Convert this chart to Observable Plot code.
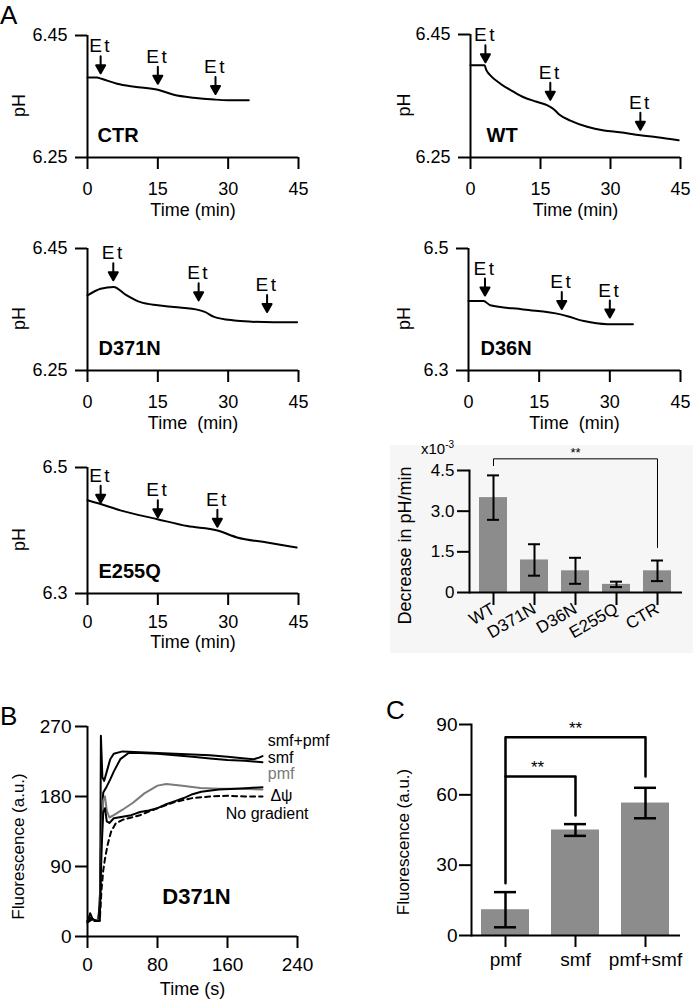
<!DOCTYPE html>
<html><head><meta charset="utf-8">
<script src="https://cdn.jsdelivr.net/npm/d3@7"></script>
<script src="https://cdn.jsdelivr.net/npm/@observablehq/plot@0.6"></script>
<style>
body{margin:0;background:#fff;}
#fig{position:relative;width:693px;height:1007px;overflow:hidden;font-family:"Liberation Sans",Arial,Helvetica,sans-serif;color:#000;}
.lab{position:absolute;font-size:26px;line-height:1;}
.bg{position:absolute;left:390px;top:445px;width:303px;height:208px;background:#f6f6f6;}
.sci{position:absolute;left:421px;top:440px;font-size:15px;line-height:1;}
.sci sup{font-size:10px;vertical-align:6px;}
</style></head><body><div id="fig"></div>
<script>
// ---------- Panel A: pH traces ----------
const ctrTime = [0, 2, 3, 6.3, 10, 15, 18.4, 22.6, 27, 30, 34.4];
const ctrPH   = [6.381, 6.381, 6.379, 6.371, 6.366, 6.361, 6.353, 6.348, 6.345, 6.344, 6.344];
const ctrEtTime = [2.8, 15, 27.3];
const ctrEtPH   = [6.388, 6.371, 6.354];

const wtTime = [0, 3, 3.4, 4.2, 6.4, 9, 11.4, 14, 16.4, 17.9, 19, 21.4, 25, 28.6, 32, 36.4, 40, 44.6];
const wtPH   = [6.40, 6.40, 6.392, 6.384, 6.37, 6.358, 6.348, 6.341, 6.335, 6.328, 6.32, 6.31, 6.30, 6.294, 6.291, 6.286, 6.283, 6.278];
const wtEtTime = [3.2, 17.1, 36.4];
const wtEtPH   = [6.405, 6.344, 6.295];

const d371Time = [0, 2.8, 5.6, 8, 11.3, 15, 18.4, 23.8, 25, 27, 31.3, 35, 39.7, 44.7];
const d371PH   = [6.373, 6.384, 6.387, 6.375, 6.362, 6.357, 6.354, 6.349, 6.346, 6.338, 6.332, 6.330, 6.329, 6.329];
const d371EtTime = [5.5, 23.7, 38.3];
const d371EtPH   = [6.398, 6.365, 6.346];

const d36Time = [0, 3.2, 4.6, 11.7, 19.5, 21, 24.5, 29.5, 34.9];
const d36PH   = [6.414, 6.414, 6.407, 6.40, 6.392, 6.389, 6.381, 6.376, 6.376];
const d36EtTime = [3.5, 19.8, 30];
const d36EtPH   = [6.423, 6.401, 6.387];

const e255Time = [0, 2.8, 7, 14.9, 21.3, 27.7, 31.9, 38.3, 44.6];
const e255PH   = [6.448, 6.442, 6.432, 6.418, 6.407, 6.40, 6.389, 6.381, 6.373];
const e255EtTime = [2.8, 15, 27.7];
const e255EtPH   = [6.444, 6.421, 6.406];

// ---------- Panel A: rate bar chart ----------
const rateGroups = ["WT", "D371N", "D36N", "E255Q", "CTR"];
const rateMean   = [3.5, 1.2, 0.8, 0.3, 0.8];
const rateErr    = [0.82, 0.58, 0.48, 0.1, 0.38];
const rateBracketGroups = ["WT", "WT", "CTR", "CTR"];
const rateBracketLevels = [4.68, 4.93, 4.93, 1.66];

// ---------- Panel B: fluorescence traces ----------
const smfPmfTime = [0, 3, 6, 10, 13, 14.5, 15.3, 17, 19, 22, 26, 30, 40, 60, 80, 100, 120, 140, 160, 180, 190, 196, 200];
const smfPmfF    = [18, 30, 22, 20, 22, 60, 258, 205, 200, 212, 228, 235, 238, 237, 236, 235, 234, 233, 231, 229, 228, 230, 232];
const smfTime = [0, 4, 8, 12, 14, 16, 18, 22, 26, 30, 37.5, 47, 60, 80, 100, 120, 140, 160, 180, 200];
const smfF    = [20, 24, 20, 21, 40, 150, 185, 193, 202, 212, 228, 236, 236, 235, 233, 231, 229, 227, 226, 224];
const pmfTime = [0, 5, 10, 14, 16, 18, 20, 22, 25, 30, 40, 52, 65, 80, 90, 106, 129, 150, 170, 200];
const pmfF    = [20, 22, 21, 22, 120, 175, 180, 162, 153, 156, 163, 172, 184, 194, 196, 194, 191, 190, 190, 189];
const dpsiTime = [0, 5, 10, 14, 16, 18, 20, 22, 25, 30, 40, 50, 60, 70, 80, 90, 100, 110, 120, 130, 150, 170, 185, 200];
const dpsiF    = [20, 23, 20, 21, 110, 160, 165, 148, 146, 152, 154, 156, 160, 162, 165, 170, 174, 178, 183, 186, 189, 190, 191, 192];
const noGradTime = [0, 5, 10, 14, 16, 18, 20, 23, 27, 32, 40, 60, 80, 100, 120, 140, 160, 180, 200];
const noGradF    = [18, 22, 20, 20, 60, 85, 100, 118, 135, 145, 150, 156, 165, 173, 178, 180, 181, 180, 180];
const fluoLabels      = ["smf+pmf", "smf", "pmf", "Δψ", "No gradient"];
const fluoLabelTime   = [206, 206, 206, 209, 158];
const fluoLabelLevel  = [252, 230, 208.5, 181, 157.5];
const fluoLabelColors = ["#000", "#000", "#7a7a7a", "#000", "#000"];

// ---------- Panel C: fluorescence bars ----------
const fGroups = ["pmf", "smf", "pmf+smf"];
const fMean   = [11, 45, 56.5];
const fErr    = [7.5, 2.5, 6.5];
const fBracketOuterGroups = ["pmf", "pmf", "pmf+smf", "pmf+smf"];
const fBracketOuterLevels = [22.3, 84.6, 84.6, 67.8];
const fBracketInnerGroups = ["pmf", "smf", "smf"];
const fBracketInnerLevels = [67.8, 67.8, 51.2];

// ---------- drawing ----------
const FONT = '"Liberation Sans", Arial, Helvetica, sans-serif';
const fig = document.getElementById("fig");
function place(el, left, top) {
  el.style.position = "absolute";
  el.style.left = left + "px";
  el.style.top = top + "px";
  fig.appendChild(el);
}
function html(cls, txt, left, top) {
  const d = document.createElement("div");
  d.className = cls; d.innerHTML = txt;
  if (left != null) { d.style.left = left + "px"; d.style.top = top + "px"; }
  fig.appendChild(d);
}
const zip = (a, b) => a.map((v, i) => ({a: v, b: b[i]}));
const baseStyle = {fontFamily: FONT, background: "transparent", color: "black", overflow: "visible"};

const arrowShape = {
  draw(ctx, l) {
    const h = 8, w = 4.5;
    ctx.moveTo(0, 0); ctx.lineTo(0, -l + h);
    ctx.moveTo(-w, -l + h); ctx.lineTo(0, -l); ctx.lineTo(w, -l + h); ctx.closePath();
  }
};

function phPanel(o) {
  const data = zip(o.time, o.ph);
  const ev = zip(o.evT, o.evPH);
  const svg = Plot.plot({
    width: o.width, height: o.height,
    marginLeft: o.mL, marginRight: o.mR, marginTop: o.mT, marginBottom: o.mB,
    style: baseStyle,
    x: {domain: [0, 45]},
    y: {domain: o.yDomain},
    marks: [
      Plot.ruleX([0], {strokeWidth: 2}),
      Plot.ruleY([o.yDomain[0]], {strokeWidth: 2}),
      Plot.axisX({ticks: [0, 15, 30, 45], tickSize: 12, tickPadding: o.xPad ?? 13, fontSize: 18, strokeWidth: 2, label: null}),
      Plot.axisY({ticks: o.yDomain, tickFormat: o.yFmt, tickSize: 12, tickPadding: 8, fontSize: 18, strokeWidth: 2, label: null}),
      Plot.line(data, {x: "a", y: "b", strokeWidth: 2, curve: "monotone-x"}),
      Plot.vector(ev, {x: "a", y: "b", length: 17, rotate: 180, anchor: "end", shape: arrowShape, fill: "black", stroke: "black", strokeWidth: 2}),
      Plot.text(ev, {x: "a", y: "b", text: () => "Et", dy: -27, fontSize: 19}),
      Plot.text([o.name], {text: d => d, frameAnchor: "bottom-left", textAnchor: "start", dx: o.nameDx, dy: -16, fontSize: 20, fontWeight: "bold"}),
      Plot.text(["pH"], {text: d => d, frameAnchor: "left", textAnchor: "middle", rotate: -90, dx: o.pHdx, dy: 9, fontSize: 18}),
      Plot.text([o.timeLabel], {text: d => d, frameAnchor: "bottom", dy: o.timeDy ?? 58, fontSize: 18})
    ]
  });
  svg.querySelectorAll("text").forEach(t => { if (t.textContent === "Et") t.setAttribute("letter-spacing", "2.5"); });
  place(svg, o.left, o.top);
}

const f2 = d => d.toFixed(2), f1 = d => d.toFixed(1);

html("lab", "A", 0, 2);
phPanel({left: 0, top: 0, width: 346, height: 225, mL: 87, mR: 48, mT: 35, mB: 68,
  yDomain: [6.25, 6.45], yFmt: f2, time: ctrTime, ph: ctrPH, evT: ctrEtTime, evPH: ctrEtPH,
  name: "CTR", nameDx: 10, pHdx: -68, timeLabel: "Time (min)"});
phPanel({left: 350, top: 0, width: 343, height: 225, mL: 120, mR: 13, mT: 34, mB: 68,
  yDomain: [6.25, 6.45], yFmt: f2, time: wtTime, ph: wtPH, evT: wtEtTime, evPH: wtEtPH,
  name: "WT", nameDx: 16, pHdx: -66, timeLabel: "Time (min)"});
phPanel({left: 0, top: 225, width: 346, height: 215, mL: 87, mR: 48, mT: 23, mB: 70,
  yDomain: [6.25, 6.45], yFmt: f2, time: d371Time, ph: d371PH, evT: d371EtTime, evPH: d371EtPH,
  name: "D371N", nameDx: 11, pHdx: -68, timeLabel: "Time  (min)"});
phPanel({left: 350, top: 225, width: 343, height: 215, mL: 118, mR: 13, mT: 23, mB: 70,
  yDomain: [6.3, 6.5], yFmt: f1, time: d36Time, ph: d36PH, evT: d36EtTime, evPH: d36EtPH,
  name: "D36N", nameDx: 12, pHdx: -64, timeLabel: "Time  (min)"});
phPanel({left: 0, top: 440, width: 346, height: 210, mL: 87, mR: 48, mT: 27, mB: 57,
  yDomain: [6.3, 6.5], yFmt: f1, time: e255Time, ph: e255PH, evT: e255EtTime, evPH: e255EtPH,
  name: "E255Q", nameDx: 11, pHdx: -68, timeLabel: "Time (min)", xPad: 10, timeDy: 54});

// rate bar chart
html("bg", "");
{
  const data = rateGroups.map((g, i) => ({g, m: rateMean[i], e: rateErr[i]}));
  const br = rateBracketGroups.map((g, i) => ({g, v: rateBracketLevels[i]}));
  const svg = Plot.plot({
    width: 343, height: 215, marginLeft: 119, marginRight: 11, marginTop: 30, marginBottom: 63,
    style: baseStyle,
    x: {domain: rateGroups, range: [113.3, 336.7], padding: 0.32},
    y: {domain: [0, 4.5]},
    marks: [
      Plot.barY(data, {x: "g", y: "m", fill: "#8c8c8c"}),
      Plot.ruleX(data, {x: "g", y1: d => d.m - d.e, y2: d => d.m + d.e, strokeWidth: 2}),
      Plot.tickY(data, {x: "g", y: d => d.m + d.e, insetLeft: 8, insetRight: 8, strokeWidth: 2}),
      Plot.tickY(data, {x: "g", y: d => d.m - d.e, insetLeft: 8, insetRight: 8, strokeWidth: 2}),
      Plot.frame({anchor: "left", strokeWidth: 2}),
      Plot.ruleY([0], {strokeWidth: 2}),
      Plot.axisX({tickSize: 13, tickPadding: 2, tickRotate: -30, fontSize: 17, strokeWidth: 2, label: null}),
      Plot.axisY({ticks: [0, 1.5, 3, 4.5], tickFormat: d => d === 0 ? "0" : d.toFixed(1), tickSize: 12, tickPadding: 3, fontSize: 17, strokeWidth: 2, label: null}),
      Plot.line(br, {x: "g", y: "v", strokeWidth: 1}),
      Plot.text([{g: "D36N", v: 4.93}], {x: "g", y: "v", text: () => "**", dy: -6, fontSize: 13}),
      Plot.text(["Decrease in pH/min"], {text: d => d, frameAnchor: "left", textAnchor: "middle", rotate: -90, dx: -64, dy: 14, fontSize: 18})
    ]
  });
  place(svg, 350, 440);
}
html("sci", "x10<sup>-3</sup>");

// Panel B
html("lab", "B", 0, 703);
{
  const series = [
    {t: smfPmfTime, f: smfPmfF, color: "#000", dash: null},
    {t: smfTime, f: smfF, color: "#000", dash: null},
    {t: pmfTime, f: pmfF, color: "#7a7a7a", dash: null},
    {t: dpsiTime, f: dpsiF, color: "#000", dash: null},
    {t: noGradTime, f: noGradF, color: "#000", dash: "5,4"}
  ];
  const labels = fluoLabels.map((n, i) => ({n, t: fluoLabelTime[i], v: fluoLabelLevel[i], c: fluoLabelColors[i]}));
  const svg = Plot.plot({
    width: 346, height: 347, marginLeft: 87, marginRight: 49, marginTop: 66, marginBottom: 71,
    style: baseStyle,
    x: {domain: [0, 240]},
    y: {domain: [0, 270]},
    marks: [
      Plot.ruleX([0], {strokeWidth: 2}),
      Plot.ruleY([0], {strokeWidth: 2}),
      Plot.axisX({ticks: [0, 80, 160, 240], tickSize: 12, tickPadding: 9, fontSize: 19, strokeWidth: 2, label: null}),
      Plot.axisY({ticks: [0, 90, 180, 270], tickSize: 12, tickPadding: 4, fontSize: 19, strokeWidth: 2, label: null}),
      ...series.map(s => Plot.line(zip(s.t, s.f), {x: "a", y: "b", stroke: s.color, strokeWidth: 2, strokeDasharray: s.dash})),
      Plot.text(labels, {x: "t", y: "v", text: "n", fill: "c", textAnchor: "start", fontSize: 16}),
      Plot.text(["D371N"], {text: d => d, frameAnchor: "bottom", dx: 4, dy: -33, fontSize: 22, fontWeight: "bold"}),
      Plot.text(["Fluorescence (a.u.)"], {text: d => d, frameAnchor: "left", textAnchor: "middle", rotate: -90, dx: -69, dy: 15, fontSize: 17}),
      Plot.text(["Time (s)"], {text: d => d, frameAnchor: "bottom", dy: 58, fontSize: 18})
    ]
  });
  place(svg, 0, 660);
}

// Panel C
html("lab", "C", 386, 697);
{
  const data = fGroups.map((g, i) => ({g, m: fMean[i], e: fErr[i]}));
  const outer = fBracketOuterGroups.map((g, i) => ({g, v: fBracketOuterLevels[i]}));
  const inner = fBracketInnerGroups.map((g, i) => ({g, v: fBracketInnerLevels[i]}));
  const svg = Plot.plot({
    width: 343, height: 347, marginLeft: 121, marginRight: 13, marginTop: 64, marginBottom: 72,
    style: baseStyle,
    x: {domain: fGroups, range: [109, 341.7], padding: 0.308},
    y: {domain: [0, 90]},
    marks: [
      Plot.barY(data, {x: "g", y: "m", fill: "#8c8c8c"}),
      Plot.ruleX(data, {x: "g", y1: d => d.m - d.e, y2: d => d.m + d.e, strokeWidth: 2.5}),
      Plot.tickY(data, {x: "g", y: d => d.m + d.e, insetLeft: 13, insetRight: 13, strokeWidth: 2.5}),
      Plot.tickY(data, {x: "g", y: d => d.m - d.e, insetLeft: 13, insetRight: 13, strokeWidth: 2.5}),
      Plot.frame({anchor: "left", strokeWidth: 2}),
      Plot.ruleY([0], {strokeWidth: 2}),
      Plot.axisX({tickSize: 12, tickPadding: 5, fontSize: 19, strokeWidth: 2, label: null}),
      Plot.axisY({ticks: [0, 30, 60, 90], tickSize: 12, tickPadding: 2, fontSize: 19, strokeWidth: 2, label: null}),
      Plot.line(outer, {x: "g", y: "v", strokeWidth: 2.5}),
      Plot.line(inner, {x: "g", y: "v", strokeWidth: 2.5}),
      Plot.text([{g: "smf", v: 84.6}], {x: "g", y: "v", text: () => "**", dy: -9, fontSize: 17}),
      Plot.text([{g: "pmf", v: 67.8}], {x: "g", y: "v", text: () => "**", dx: 32, dy: -9, fontSize: 17}),
      Plot.text(["Fluorescence (a.u.)"], {text: d => d, frameAnchor: "left", textAnchor: "middle", rotate: -90, dx: -68, dy: 12, fontSize: 17})
    ]
  });
  place(svg, 350, 660);
}
</script></body></html>
